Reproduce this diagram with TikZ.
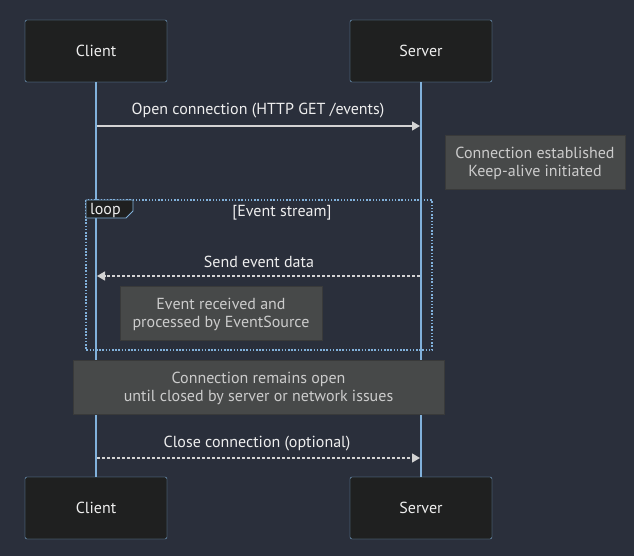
\documentclass[tikz,border=0pt]{standalone}
\usepackage{fontspec}
\setmainfont{PT Sans}
\usetikzlibrary{arrows.meta}
\definecolor{bg}{HTML}{2A2F3B}
\definecolor{actfill}{HTML}{1F2020}
\definecolor{actline}{HTML}{81B1DB}
\definecolor{msg}{HTML}{D3D3D3}
\definecolor{notefill}{HTML}{474949}
\definecolor{notetext}{HTML}{CCCCCC}
\definecolor{txt}{HTML}{EEEEEE}
\tikzset{
  actor/.style={draw=actline, fill=actfill, rounded corners=2pt, minimum width=142pt, minimum height=62pt, text=txt, font=\fontsize{16}{18}\selectfont, inner sep=0pt},
  lifeline/.style={draw=actline, line width=1.8pt},
  msgline/.style={draw=msg, line width=1.3pt, -{Triangle[length=8pt,width=9pt]}},
  msgdash/.style={msgline, dash pattern=on 3pt off 2pt},
  msglabel/.style={text=txt, font=\fontsize{16}{18}\selectfont, inner sep=0pt},
  notebox/.style={fill=notefill, draw=notefill!80!black, inner sep=0pt},
  notelabel/.style={text=notetext, align=center, font=\fontsize{16}{18}\selectfont, inner sep=0pt},
}
\begin{document}
\begin{tikzpicture}[x=1pt,y=-1pt]
\fill[bg] (0,0) rectangle (634,556);
\useasboundingbox (0,0) rectangle (634,556);
% actors
\node[actor] (ct) at (96,51) {\raisebox{-1.5pt}{Client}};
\node[actor] (st) at (421,51) {\raisebox{-1.5pt}{Server}};
\node[actor] (cb) at (96,508) {\raisebox{-1.5pt}{Client}};
\node[actor] (sb) at (421,508) {\raisebox{-1.5pt}{Server}};
% lifelines
\draw[lifeline] (ct.south) -- (cb.north);
\draw[lifeline] (st.south) -- (sb.north);
% message 1
\coordinate (m1a) at (97,126);
\coordinate (m1b) at (420,126);
\draw[msgline] (m1a) -- (m1b);
\node[msglabel] (l1) at (258,111) {Open connection (HTTP GET /events)};
% note 1
\node[notebox, minimum width=180pt, minimum height=54pt] (n1) at (535,162) {};
\node[notelabel] (n1t) at ([yshift=-1.8pt]n1.center) {Connection established\\Keep-alive initiated};
% loop
\draw[actline, line width=1.3pt, dash pattern=on 1.5pt off 1.7pt] (86,200) rectangle (432,350);
\draw[actline, fill=actfill, line width=0.9pt] (86,200) -- (133,200) -- (133,211) -- (126,218) -- (86,218) -- cycle;
\node[msglabel, anchor=west] (lp) at (90,210.5) {loop};
\node[msglabel] (lc) at (282,213) {[Event stream]};
% message 2
\coordinate (m2a) at (420,276);
\coordinate (m2b) at (97,276);
\draw[msgdash] (m2a) -- (m2b);
\node[msglabel] (l2) at (259,262) {Send event data};
% note 2
\node[notebox, minimum width=202pt, minimum height=54pt] (n2) at (221,313) {};
\node[notelabel] (n2t) at ([yshift=-1.8pt]n2.center) {Event received and\\processed by EventSource};
% note 3
\node[notebox, minimum width=371pt, minimum height=54pt] (n3) at (258.5,387) {};
\node[notelabel] (n3t) at ([yshift=-1.8pt]n3.center) {Connection remains open\\until closed by server or network issues};
% message 3
\coordinate (m3a) at (97,458);
\coordinate (m3b) at (420,458);
\draw[msgdash] (m3a) -- (m3b);
\node[msglabel] (l3) at (257,444) {Close connection (optional)};
\end{tikzpicture}
\end{document}
